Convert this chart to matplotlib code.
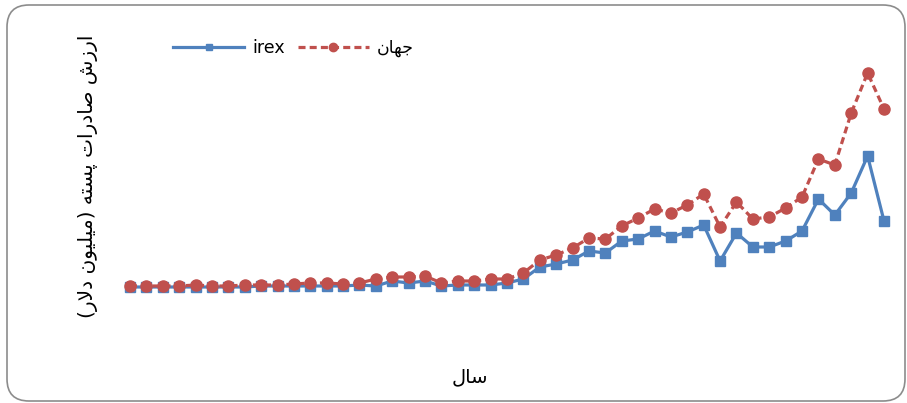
import matplotlib
matplotlib.use("Agg")
import matplotlib.pyplot as plt
from matplotlib.patches import FancyBboxPatch
from matplotlib.transforms import IdentityTransform

# ---- data (arbitrary units: million dollars) ----
years = list(range(1970, 2017))
irex = [30, 30, 30, 30, 30, 30, 30, 30, 40, 40, 40, 40, 40, 40, 50,
        40, 90, 70, 90, 40, 50, 50, 50, 70, 110, 230, 260, 300, 390, 370,
        490, 510, 590, 530, 580, 650, 290, 570, 430, 430, 490, 590, 910,
        750, 970, 1340, 690]
world = [40, 40, 40, 40, 50, 40, 40, 50, 50, 50, 60, 70, 70, 60, 70,
         110, 130, 130, 140, 70, 90, 90, 110, 110, 170, 300, 350, 420, 520, 510,
         640, 720, 810, 770, 850, 960, 630, 880, 710, 730, 820, 930, 1310,
         1250, 1770, 2170, 1810]

# Persian labels (visual order, presentation forms)
label_irex = "irex"
label_world = "\uFEE5\uFE8E\uFEEC\uFE9F"          # جهان
xlabel_txt = "\uFEDD\uFE8E\uFEB3"                  # سال
ylabel_txt = ("(\uFEAD\uFEFB\uFEA9 \uFEE5\uFEEE\uFBFF\uFEE0\uFBFF\uFEE3) "
              "\uFEEA\uFE98\uFEB4\uFB58 "
              "\uFE95\uFE8D\uFEAD\uFEA9\uFE8E\uFEBB "
              "\uFEB5\uFEAF\uFEAD\uFE8D")          # ارزش صادرات پسته (میلیون دلار)

blue = "#4F81BD"
red = "#C0504D"

plt.rcParams['font.family'] = ['DejaVu Sans']

fig = plt.figure(figsize=(9.07, 4.03), dpi=100)
W, H = 907, 403
ax = fig.add_axes([113.6 / W, (H - 310) / H, (900.4 - 113.6) / W, 260 / H])

x = list(range(len(years)))
ax.plot(x, irex, color=blue, lw=2.3, marker='s', ms=6.5, mec=blue, mfc=blue,
        label=label_irex, zorder=3)
ax.plot(x, world, color=red, lw=2.3, ls=(0, (2.2, 1.3)), marker='o', ms=8,
        mec=red, mfc=red, label=label_world, zorder=4)

ax.set_xlim(-1, 47)
ax.set_ylim(-200, 2400)
ax.set_xticks([])
ax.set_yticks([])
for s in ax.spines.values():
    s.set_visible(False)
ax.patch.set_alpha(0)

leg = ax.legend(loc='center left', bbox_to_anchor=(173 / W, 1 - 48 / H),
                bbox_transform=fig.transFigure, ncol=2, frameon=False,
                fontsize=12.5, handlelength=4.1, handletextpad=0.45,
                columnspacing=0.75, borderpad=0, borderaxespad=0,
                markerscale=0.75)

fig.text(88 / W, 1 - 176 / H, ylabel_txt, rotation=90, ha='center',
         va='center', fontsize=14.5)
fig.text(470 / W, 1 - 377 / H, xlabel_txt, ha='center', va='center',
         fontsize=14)

border = FancyBboxPatch((7, 2), 898, 396, boxstyle="round,pad=0,rounding_size=22",
                        transform=IdentityTransform(), fill=False,
                        ec="#8C8C8C", lw=1.2)
fig.patches.append(border)

fig.savefig("out.png", dpi=100)
